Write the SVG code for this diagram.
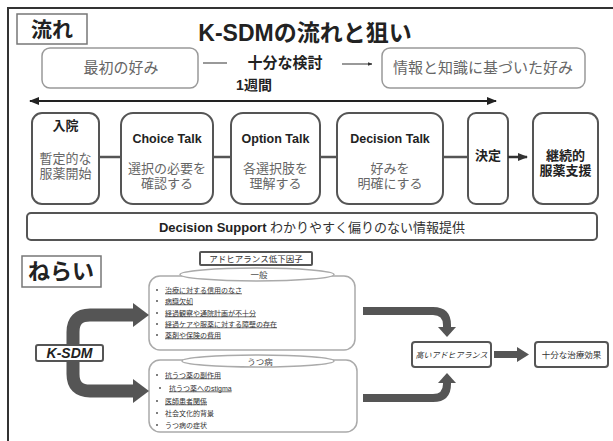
<svg xmlns="http://www.w3.org/2000/svg" width="613" height="441" viewBox="0 0 613 441">
<style>
text{font-family:'Liberation Sans','Noto Sans CJK JP',sans-serif;text-anchor:middle}
.h{font-weight:bold;fill:#222}
.g{fill:#666}
.fb{fill:#fff;stroke:#555;stroke-width:2}
.pb{fill:#fff;stroke:#999;stroke-width:1.5}
.lb{fill:#fff;stroke:#777;stroke-width:1.5}
.gb{fill:#fff;stroke:#aaa;stroke-width:1.5}
.bl{font-size:7px;fill:#333;text-anchor:start}
.u{text-decoration:underline}
.ta{fill:none;stroke:#555}
</style>
<defs>
<marker id="ah" viewBox="0 0 10 10" refX="9" refY="5" markerWidth="5" markerHeight="5" orient="auto-start-reverse"><path d="M0 1L10 5L0 9Z" fill="#222"/></marker>
<marker id="ahs" viewBox="0 0 10 10" refX="9" refY="5" markerWidth="4" markerHeight="4" orient="auto"><path d="M0 1L10 5L0 9Z" fill="#333"/></marker>
</defs>
<rect x="0" y="0" width="613" height="441" fill="#fff"/>
<path d="M8 441V8H613" fill="none" stroke="#333" stroke-width="2"/>

<g id="label-flow"><rect class="lb" x="17" y="14" width="70" height="30"/><text class="h" x="52" y="37" font-size="21">流れ</text></g>
<g id="title"><text class="h" x="305" y="41" font-size="23">K-SDMの流れと狙い</text></g>

<g id="pref-initial"><rect class="pb" x="42" y="48" width="156" height="40" rx="8"/><text class="g" x="121" y="73" font-size="15">最初の好み</text></g>
<g id="consider"><text class="h" x="285" y="68" font-size="15">十分な検討</text><text class="h" x="254" y="90" font-size="14">1週間</text></g>
<g id="pref-informed"><rect class="pb" x="382" y="48" width="203" height="40" rx="8"/><text class="g" x="483" y="73" font-size="15">情報と知識に基づいた好み</text></g>

<g id="step-admit"><rect class="fb" x="32" y="113" width="67" height="91" rx="10"/><text class="h" x="65.5" y="130" font-size="13">入院</text><text class="g" x="65.5" y="163" font-size="13">暫定的な</text><text class="g" x="65.5" y="178" font-size="13">服薬開始</text></g>
<g id="step-choice"><rect class="fb" x="121" y="113" width="92" height="91" rx="12"/><text class="h" x="167" y="143" font-size="12.5">Choice Talk</text><text class="g" x="167" y="173" font-size="13">選択の必要を</text><text class="g" x="167" y="188" font-size="13">確認する</text></g>
<g id="step-option"><rect class="fb" x="231" y="113" width="89" height="91" rx="12"/><text class="h" x="275.5" y="143" font-size="12.5">Option Talk</text><text class="g" x="275.5" y="173" font-size="13">各選択肢を</text><text class="g" x="275.5" y="188" font-size="13">理解する</text></g>
<g id="step-decision"><rect class="fb" x="337" y="113" width="106" height="91" rx="12"/><text class="h" x="390" y="143" font-size="12.5">Decision Talk</text><text class="g" x="390" y="173" font-size="13">好みを</text><text class="g" x="390" y="188" font-size="13">明確にする</text></g>
<g id="step-decide"><rect class="fb" x="468" y="113" width="40" height="91" rx="8"/><text class="h" x="488" y="160" font-size="13">決定</text></g>
<g id="step-support"><rect class="fb" x="533" y="113" width="65" height="91" rx="10"/><text class="h" x="565.5" y="160" font-size="13">継続的</text><text class="h" x="565.5" y="175" font-size="13">服薬支援</text></g>

<g id="decision-support"><rect class="fb" x="27" y="213" width="570" height="27" rx="4"/><text x="312" y="232" font-size="13" fill="#333"><tspan font-weight="bold" fill="#222">Decision Support</tspan> わかりやすく偏りのない情報提供</text></g>

<g id="label-aim"><rect class="lb" x="22" y="256" width="79" height="31"/><text class="h" x="61" y="279" font-size="22">ねらい</text></g>
<g id="ksdm"><rect class="fb" x="36" y="345" width="67" height="16" rx="2" stroke-width="1.5"/><text class="h" x="69.5" y="358" font-size="14" font-style="italic">K-SDM</text></g>

<g id="factor-title"><rect class="fb" x="200" y="252" width="112" height="13" rx="1" stroke-width="1.2" stroke="#666"/><text x="256" y="261.5" font-size="8.5" fill="#333">アドヒアランス低下因子</text></g>

<g id="factor-general">
<rect class="gb" x="149" y="276" width="206" height="74" rx="11"/>
<ellipse cx="257" cy="274.5" rx="77" ry="6.5" fill="#fff" stroke="#aaa" stroke-width="1.5"/>
<text x="259" y="278" font-size="8.5" fill="#444">一般</text>
<g fill="#555"><circle cx="157" cy="290" r="1"/><circle cx="157" cy="301" r="1"/><circle cx="157" cy="313" r="1"/><circle cx="157" cy="324" r="1"/><circle cx="157" cy="335" r="1"/></g>
<text class="bl u" x="165" y="292.5">治療に対する信用のなさ</text>
<text class="bl u" x="165" y="303.5">病識欠如</text>
<text class="bl u" x="165" y="315.5">経過観察や通院計画が不十分</text>
<text class="bl u" x="165" y="326.5">経過ケアや服薬に対する障壁の存在</text>
<text class="bl u" x="165" y="337.5">薬剤や保険の費用</text>
</g>

<g id="factor-depression">
<rect class="gb" x="149" y="360" width="208" height="72" rx="11"/>
<ellipse cx="258" cy="361" rx="76" ry="6" fill="#fff" stroke="#aaa" stroke-width="1.5"/>
<text x="260" y="364.5" font-size="8.5" fill="#444">うつ病</text>
<g fill="#555"><circle cx="157" cy="375" r="1"/><circle cx="160" cy="388" r="1"/><circle cx="157" cy="401" r="1"/><circle cx="157" cy="413" r="1"/><circle cx="157" cy="425" r="1"/></g>
<text class="bl u" x="165" y="377.5">抗うつ薬の副作用</text>
<text class="bl u" x="169" y="390.5">抗うつ薬へのstigma</text>
<text class="bl u" x="165" y="403.5">医師患者関係</text>
<text class="bl" x="165" y="415.5" fill="#555">社会文化的背景</text>
<text class="bl" x="165" y="427.5" fill="#555">うつ病の症状</text>
</g>

<g id="high-adherence"><rect class="fb" x="412" y="342" width="79" height="25" rx="3" stroke-width="1.5"/><text x="451.5" y="358" font-size="8" font-style="italic" fill="#333">高いアドヒアランス</text></g>
<g id="effect"><rect class="fb" x="535" y="342" width="73" height="25" rx="3" stroke-width="1.5"/><text x="571.5" y="358" font-size="8.5" fill="#333">十分な治療効果</text></g>

<g id="connectors">
<line x1="30" y1="101" x2="496" y2="101" stroke="#222" stroke-width="2" marker-start="url(#ah)" marker-end="url(#ah)"/>
<line x1="203" y1="63" x2="227" y2="63" stroke="#555" stroke-width="1.2"/>
<line x1="342" y1="64" x2="372" y2="64" stroke="#555" stroke-width="1.2" marker-end="url(#ahs)"/>
<g stroke="#555" stroke-width="2.5"><line x1="99" y1="157" x2="121" y2="157"/><line x1="213" y1="157" x2="231" y2="157"/><line x1="320" y1="157" x2="337" y2="157"/><line x1="443" y1="157" x2="468" y2="157"/></g>
<line x1="508" y1="157" x2="527" y2="157" stroke="#333" stroke-width="2.5" marker-end="url(#ahs)"/>
<path class="ta" stroke-width="13" d="M73 345V332Q73 315 90 315H134"/>
<polygon points="133,303 149,315 133,327" fill="#555"/>
<path class="ta" stroke-width="13" d="M73 361V374Q73 391 90 391H134"/>
<polygon points="133,379 149,391 133,403" fill="#555"/>
<path class="ta" stroke-width="8" d="M363 311H433Q447 311 447 325V328"/>
<polygon points="438,327 456,327 447,337" fill="#555"/>
<path class="ta" stroke-width="8" d="M363 398H433Q447 398 447 384V382"/>
<polygon points="438,383 456,383 447,373" fill="#555"/>
<polygon points="494,351 517,351 517,347 529,354.5 517,362 517,358 494,358" fill="#555"/>
</g>
</svg>
